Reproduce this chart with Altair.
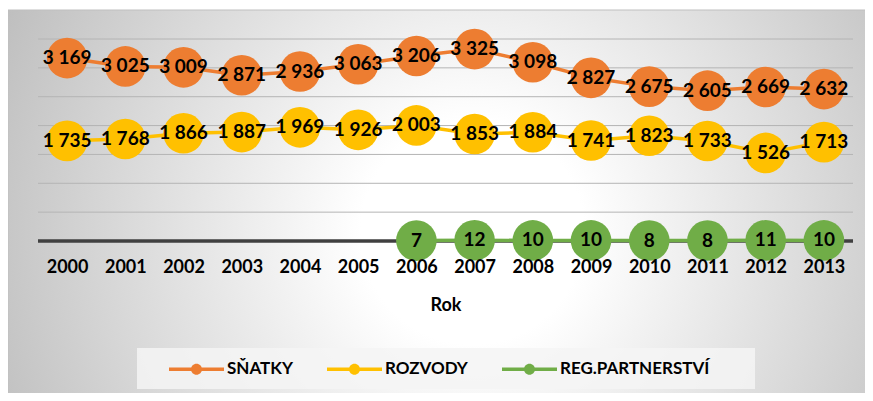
import altair as alt
import pandas as pd

years = [str(y) for y in range(2000, 2014)]
snatky = [3169, 3025, 3009, 2871, 2936, 3063, 3206, 3325, 3098, 2827, 2675, 2605, 2669, 2632]
rozvody = [1735, 1768, 1866, 1887, 1969, 1926, 2003, 1853, 1884, 1741, 1823, 1733, 1526, 1713]
reg_years = [str(y) for y in range(2006, 2014)]
reg = [7, 12, 10, 10, 8, 8, 11, 10]
series = ["SŇATKY", "ROZVODY", "REG.PARTNERSTVÍ"]
colors = ["#ED7D31", "#FFC000", "#70AD47"]
grid_values = [500, 1000, 1500, 2000, 2500, 3000, 3500]

rows = []
for y, v in zip(years, snatky):
    rows.append({"rok": y, "serie": series[0], "pocet": v})
for y, v in zip(years, rozvody):
    rows.append({"rok": y, "serie": series[1], "pocet": v})
for y, v in zip(reg_years, reg):
    rows.append({"rok": y, "serie": series[2], "pocet": v})
df = pd.DataFrame(rows)
df["popisek"] = df["pocet"].map(lambda v: f"{v:,}".replace(",", " "))

yscale = alt.Scale(domain=[0, 3500], nice=False, zero=True)
xenc = alt.X(
    "rok:O",
    scale=alt.Scale(domain=years),
    axis=alt.Axis(
        title="Rok", labelAngle=0, domain=False, ticks=False, grid=False,
        labelFont="Lato", labelFontWeight="bold", labelFontSize=18, labelColor="black",
        labelPadding=17, titleFont="Lato", titleFontWeight="bold", titleFontSize=18,
        titleColor="black", titlePadding=20, zindex=1,
    ),
)
yenc = alt.Y("pocet:Q", scale=yscale, axis=None)
cscale = alt.Scale(domain=series, range=colors)

sym = "M-1,-0.06H1V0.06H-1Z M-0.2,0A0.2,0.2,0,1,1,0.2,0A0.2,0.2,0,1,1,-0.2,0Z"
legend = alt.Legend(
    title=None, orient="none", legendX=131, legendY=302.5,
    direction="horizontal", columns=3, padding=0,
    symbolType=sym, symbolSize=3025, symbolStrokeWidth=0, symbolOpacity=1,
    labelFont="Lato", labelFontWeight="bold", labelFontSize=17,
    labelColor="black", labelOffset=3, columnPadding=34,
)

gradient = {
    "gradient": "radial",
    "x1": 0.54, "y1": 0.3, "r1": 0,
    "x2": 0.54, "y2": 0.3, "r2": 0.65,
    "stops": [
        {"offset": 0, "color": "#ffffff"},
        {"offset": 0.2, "color": "#ffffff"},
        {"offset": 1, "color": "#b8b8b8"},
    ],
}

one = pd.DataFrame({"a": [0]})
bg = alt.Chart(one).mark_rect(fill=gradient, stroke="#bfbfbf", strokeWidth=1).encode(
    x=alt.value(-30), x2=alt.value(830), y=alt.value(-29), y2=alt.value(760)
)
legend_box = alt.Chart(one).mark_rect(fill="#f4f4f4", opacity=0.85).encode(
    x=alt.value(99), x2=alt.value(717), y=alt.value(309), y2=alt.value(350)
)

grid = alt.Chart(pd.DataFrame({"v": grid_values})).mark_rule(
    color="#b4b4b4", strokeWidth=1
).encode(y=alt.Y("v:Q", scale=yscale, axis=None))
zero = alt.Chart(pd.DataFrame({"v": [0]})).mark_rule(
    color="#404040", strokeWidth=3.5
).encode(y=alt.Y("v:Q", scale=yscale, axis=None))

base = alt.Chart(df)
lines = base.mark_line(strokeWidth=3.5).encode(
    x=xenc, y=yenc, detail="serie:N",
    color=alt.Color("serie:N", scale=cscale, legend=legend),
)
points = base.mark_circle(size=1650, opacity=1).encode(
    x=xenc, y=yenc,
    color=alt.Color("serie:N", scale=cscale, legend=legend),
)
labels = base.mark_text(
    font="Lato", fontWeight="bold", fontSize=19, color="black", baseline="middle"
).encode(x=xenc, y=yenc, text="popisek:N")

chart = alt.layer(bg, legend_box, grid, zero, lines, points, labels).properties(
    width=815, height=202,
    padding={"left": 30, "top": 31, "right": 12, "bottom": 152},
    autosize=alt.AutoSizeParams(type="none"),
).configure_view(stroke=None)

chart.save("out.html", embed_options={"renderer": "svg", "actions": False})
